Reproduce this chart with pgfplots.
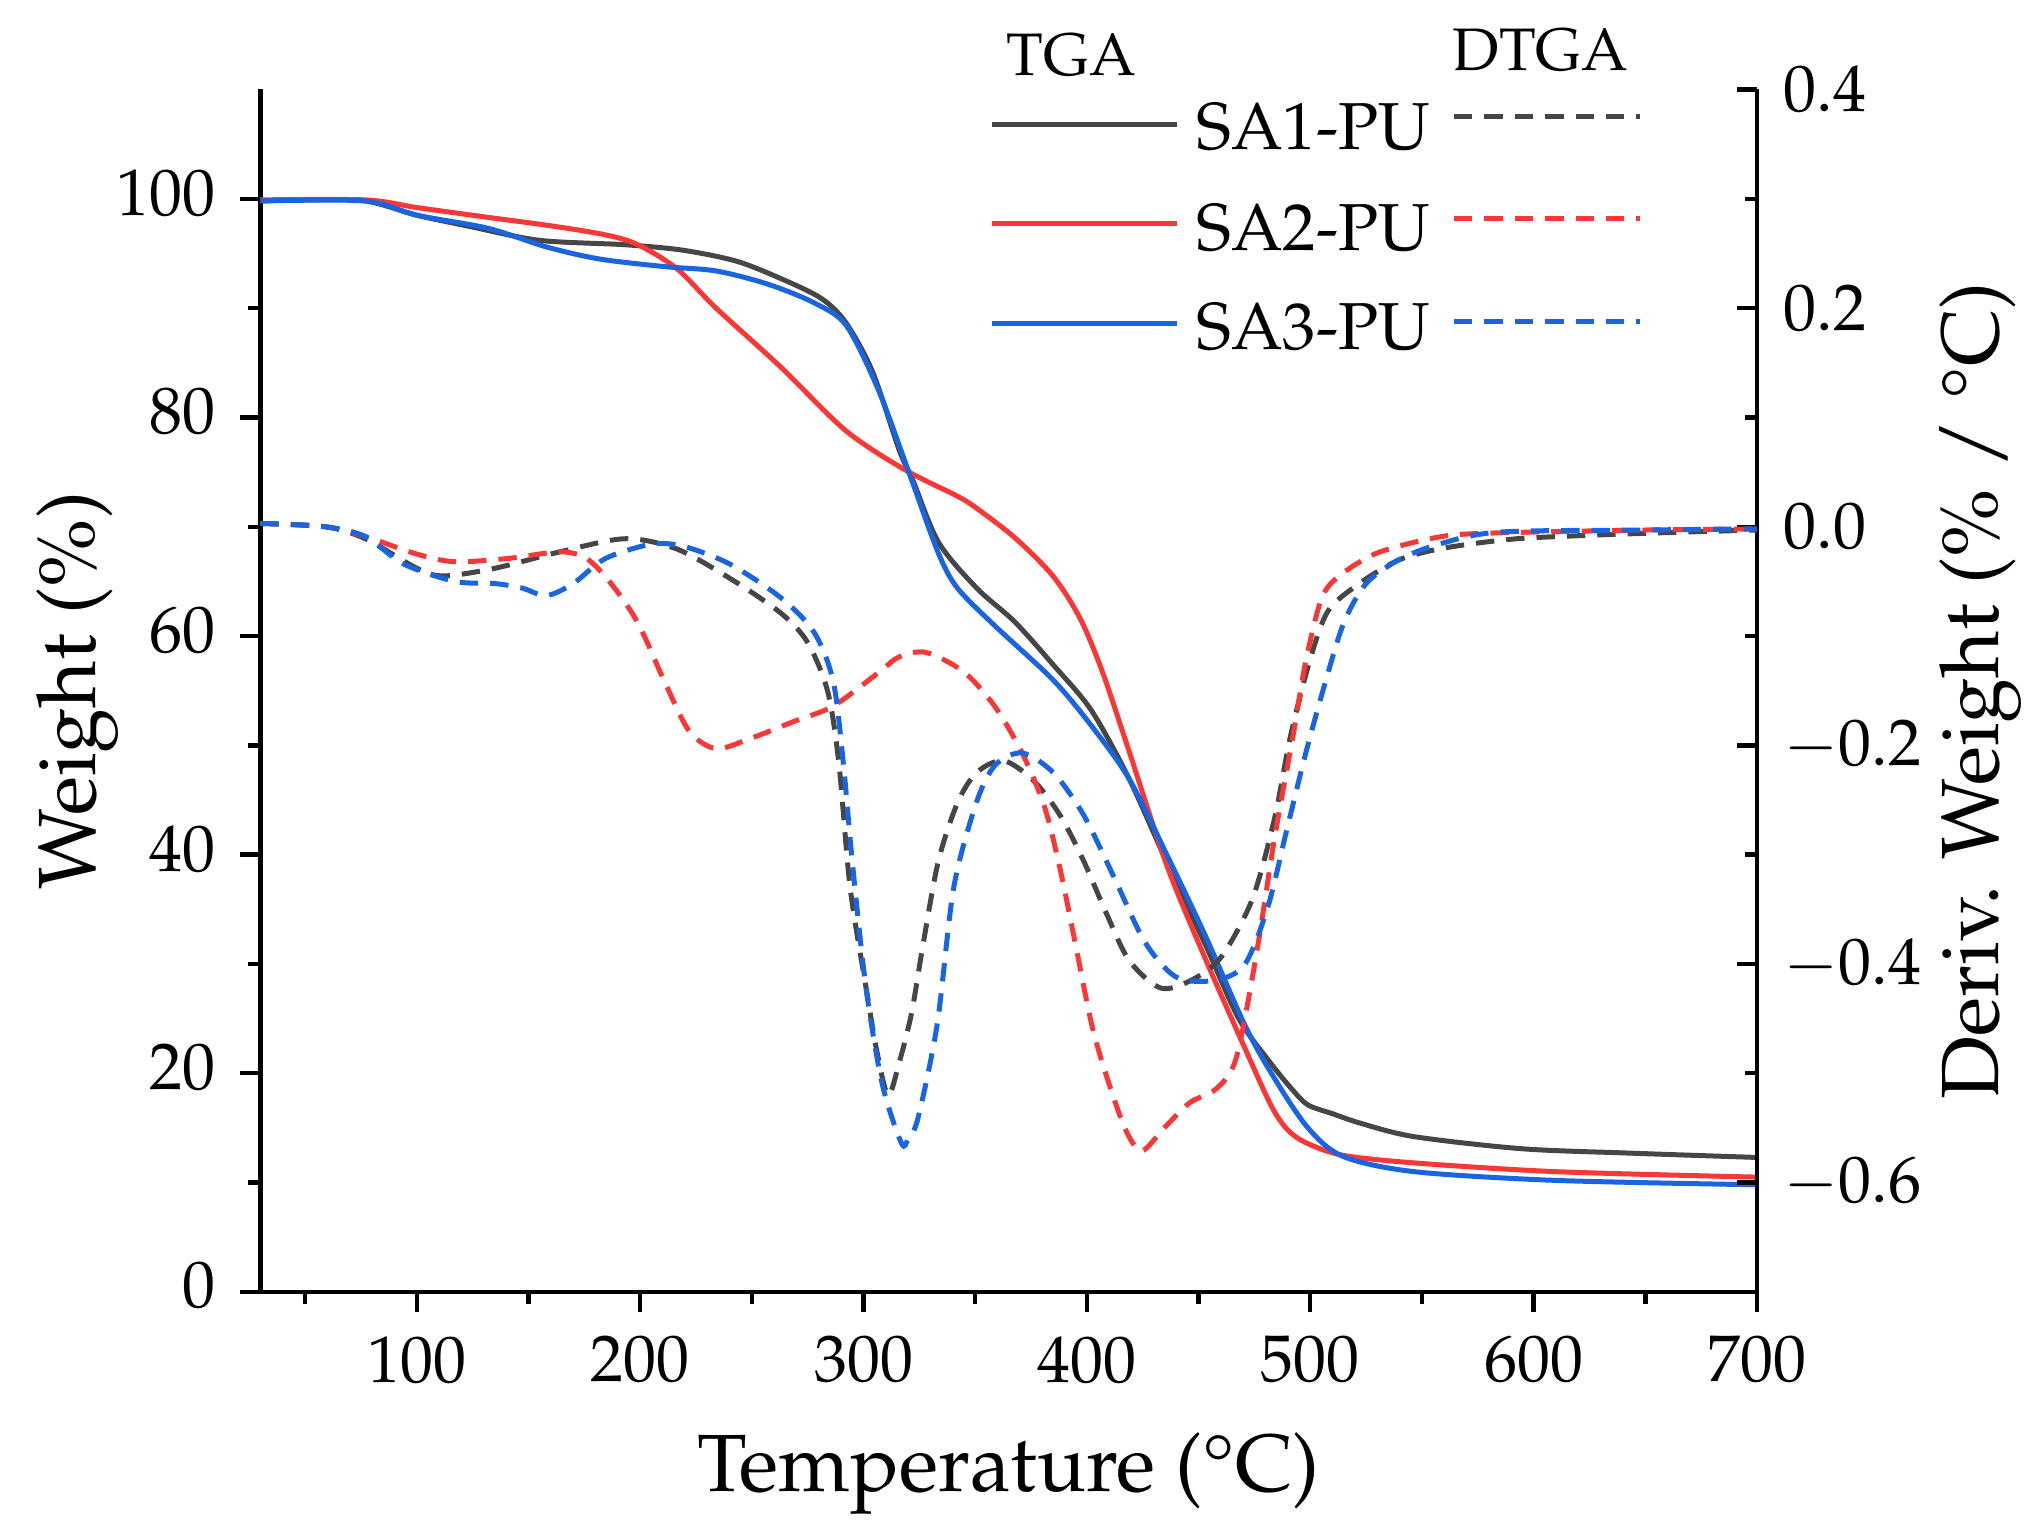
\documentclass[border=0pt]{standalone}
\usepackage[T1]{fontenc}
\usepackage{mathpazo}
\usepackage{pgfplots}
\pgfplotsset{compat=1.18}
\definecolor{cgray}{RGB}{70,70,70}
\definecolor{cred}{RGB}{250,55,55}
\definecolor{cblue}{RGB}{25,100,225}
\begin{document}
\begin{tikzpicture}
\pgfplotsset{
  common/.style={scale only axis, width=374.15pt, height=300.6pt,
    xmin=30, xmax=700,
    axis line style={line width=1.1pt},
    every tick/.style={line width=1.1pt, black},
    major tick length=5pt, minor tick length=3pt,
    tick label style={font=\fontsize{16.5}{19.8}\selectfont, inner sep=0pt},
    label style={font=\fontsize{20.3}{24}\selectfont, inner sep=0pt},
  },
  tga/.style={line width=1.25pt, smooth, no markers},
  dtga/.style={line width=1.25pt, smooth, no markers, dash pattern=on 4.6pt off 3pt},
}
\begin{axis}[common, name=a,
  axis x line*=bottom, axis y line*=left, tick align=outside,
  ymin=0, ymax=110,
  ytick={0,20,40,60,80,100}, minor ytick={10,30,50,70,90},
  xtick={100,200,300,400,500,600,700}, minor xtick={50,150,250,350,450,550,650},
  xticklabel shift=6pt, yticklabel shift=6pt,
  yticklabel style={yshift=1.5pt},
  xlabel={Temperature (\textdegree C)},
  ylabel={Weight (\%)},
  xlabel style={at={(axis description cs:0.5,0)}, anchor=north, yshift=-35pt},
  ylabel style={at={(axis description cs:0,0.5)}, anchor=north, yshift=56pt},
]
\addplot[tga, cgray] coordinates {
(30,99.8)(50,99.9)(77,99.8)(100,98.5)(123,97.5)(155,96.2)(193,95.8)(219,95.3)
(243,94.3)(263,92.7)(281,90.9)(292,88.7)(304,84.2)(316,77.0)(322,74.3)
(333.5,68.6)(350.6,64.4)(367.7,61.3)(384.8,57.4)(402,53.2)(419,46.9)(436,39.2)
(453,31.8)(468,25.0)(482,21.0)(492,18.5)(499,17.1)(510,16.3)(523,15.4)
(546.6,14.2)(594.5,13.1)(642.5,12.7)(700,12.3)};
\addplot[tga, cred] coordinates {
(30,99.9)(77,99.9)(100,99.2)(132,98.3)(161,97.5)(184.5,96.7)(199,95.8)
(216.5,93.6)(234,90.0)(263,84.6)(292,78.8)(318.6,75.2)(342,72.8)(350.6,71.7)
(367.7,69.0)(384.8,65.5)(397,61.6)(407,56.7)(419,49.4)(436,38.9)(453,30.5)
(470.5,22.4)(482.6,17.0)(490,14.8)(498.6,13.6)(514.6,12.5)(546.6,11.8)
(610,11.0)(700,10.5)};
\addplot[tga, cblue] coordinates {
(30,99.8)(77,99.8)(100,98.5)(132,97.3)(158,95.6)(181.6,94.5)(210.7,93.8)
(234,93.4)(257,92.2)(277.7,90.5)(292.3,88.4)(306.9,82.4)(321.5,74.3)
(333.5,67.6)(342,64.4)(359,60.9)(384.8,56.0)(402,51.8)(419,46.9)(436,39.9)
(453,32.6)(470.5,24.5)(482.6,20.0)(498.6,15.1)(514.6,12.4)(546.6,11.0)
(610,10.2)(700,9.8)};
\end{axis}
\begin{axis}[common,
  axis x line=none, axis y line*=right, tick align=inside,
  ymin=-0.7, ymax=0.4,
  ytick={-0.6,-0.4,-0.2,0,0.2,0.4}, minor ytick={-0.5,-0.3,-0.1,0.1,0.3},
  yticklabel shift=6.5pt,
  yticklabel style={/pgf/number format/.cd, fixed, fixed zerofill, precision=1},
  ylabel={Deriv. Weight (\% / \textdegree C)},
  ylabel style={at={(axis description cs:1,0.5)}, anchor=north, yshift=-45.5pt},
]
\addplot[dtga, cgray] coordinates {
(30,0.003)(59,0.0)(77,-0.011)(100,-0.038)(112,-0.045)(135,-0.038)(164,-0.023)
(193,-0.011)(216,-0.020)(240,-0.047)(263,-0.079)(275,-0.106)(284,-0.151)
(289,-0.217)(294,-0.330)(301,-0.420)(306,-0.480)(311,-0.520)(316,-0.490)
(321.5,-0.445)(326.6,-0.383)(333.5,-0.306)(342,-0.253)(350.6,-0.225)
(362.6,-0.214)(376,-0.232)(388,-0.264)(398.6,-0.306)(409,-0.355)(419,-0.397)
(433,-0.422)(446.6,-0.415)(460,-0.394)(474,-0.341)(484,-0.267)(491,-0.193)
(499.7,-0.123)(508,-0.077)(522,-0.052)(539,-0.031)(556,-0.021)(578.5,-0.014)
(600,-0.010)(650,-0.006)(700,-0.003)};
\addplot[dtga, cred] coordinates {
(30,0.003)(59,0.0)(77,-0.009)(100,-0.025)(117,-0.032)(141,-0.029)(164,-0.023)
(176,-0.029)(187,-0.052)(199,-0.088)(211,-0.142)(222,-0.187)(234,-0.203)
(249,-0.194)(269,-0.178)(286.5,-0.164)(307,-0.133)(316,-0.119)(328,-0.115)
(345,-0.133)(359,-0.165)(371,-0.207)(381,-0.256)(388,-0.313)(395,-0.383)
(402,-0.454)(408.4,-0.500)(417,-0.550)(424.4,-0.571)(434.6,-0.550)
(446,-0.527)(458,-0.514)(466.7,-0.487)(475.4,-0.397)(484,-0.285)(490,-0.217)
(493,-0.183)(498,-0.123)(505,-0.066)(513,-0.045)(530,-0.024)(556,-0.010)
(578,-0.006)(650,-0.003)(700,-0.002)};
\addplot[dtga, cblue] coordinates {
(30,0.003)(59,0.0)(77,-0.009)(94,-0.034)(117,-0.050)(135,-0.052)(147,-0.056)
(158,-0.063)(170,-0.052)(184.5,-0.029)(205,-0.016)(219.5,-0.018)(240,-0.034)
(263,-0.065)(278,-0.097)(286.5,-0.142)(291,-0.217)(295,-0.307)(301,-0.420)
(308.4,-0.510)(317,-0.564)(320,-0.560)(324.4,-0.541)(333,-0.455)(340.4,-0.330)
(350.6,-0.252)(359,-0.218)(371,-0.207)(385,-0.225)(398.6,-0.264)(412,-0.320)
(426,-0.380)(440,-0.412)(457,-0.415)(470.5,-0.401)(481,-0.348)(489.4,-0.278)
(498,-0.207)(506.5,-0.144)(515,-0.088)(525,-0.052)(539,-0.031)(556,-0.017)
(584,-0.005)(650,-0.003)(700,-0.002)};
\end{axis}
% legend
\begin{scope}[shift={(a.south west)}]
\draw[cgray, line width=1.25pt] (183pt,291.8pt) -- (229.2pt,291.8pt);
\draw[cred, line width=1.25pt] (183pt,267pt) -- (229.2pt,267pt);
\draw[cblue, line width=1.25pt] (183pt,242pt) -- (229.2pt,242pt);
\draw[cgray, line width=1.25pt, dash pattern=on 4.6pt off 3pt] (298.4pt,293.9pt) -- (344.8pt,293.9pt);
\draw[cred, line width=1.25pt, dash pattern=on 4.6pt off 3pt] (298.4pt,268.3pt) -- (344.8pt,268.3pt);
\draw[cblue, line width=1.25pt, dash pattern=on 4.6pt off 3pt] (298.4pt,242.65pt) -- (344.8pt,242.65pt);
\node[anchor=west, inner sep=0pt, font=\fontsize{16.6}{19}\selectfont] at (233.8pt,291.25pt) {SA1-PU};
\node[anchor=west, inner sep=0pt, font=\fontsize{16.6}{19}\selectfont] at (233.8pt,265.8pt) {SA2-PU};
\node[anchor=west, inner sep=0pt, font=\fontsize{16.6}{19}\selectfont] at (233.8pt,241.05pt) {SA3-PU};
\node[inner sep=0pt, font=\fontsize{15}{18}\selectfont] at (202.8pt,309.25pt) {TGA};
\node[inner sep=0pt, font=\fontsize{15}{18}\selectfont] at (320pt,310.5pt) {DTGA};
\end{scope}
\pgfresetboundingbox
\path ([shift={(-65.1pt,-60.75pt)}]a.south west) rectangle ([shift={(71.25pt,22.375pt)}]a.north east);
\end{tikzpicture}
\end{document}
